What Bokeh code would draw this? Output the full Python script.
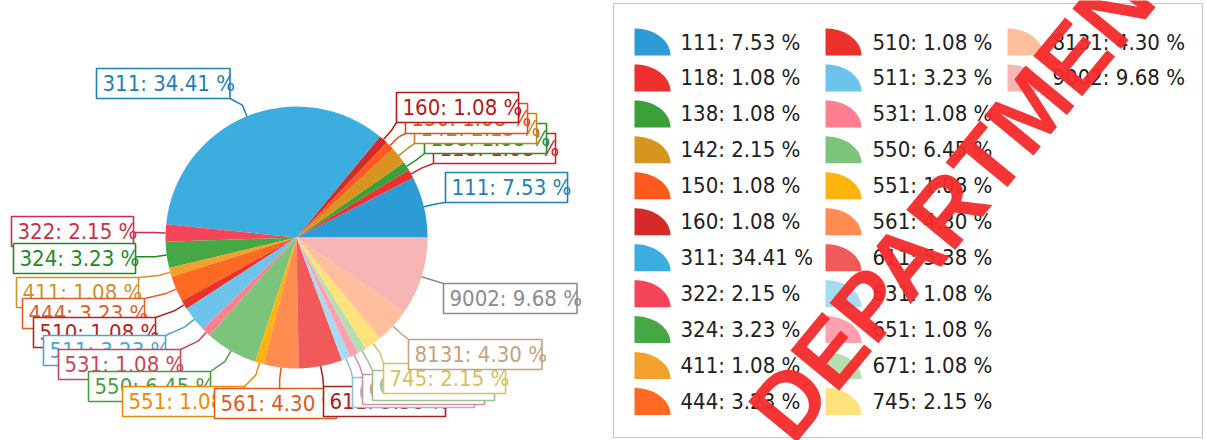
import math
from bokeh.plotting import figure
from bokeh.models import Range1d, ColumnDataSource
from bokeh.core.properties import value
from bokeh.embed import file_html
from bokeh.resources import INLINE

# ---------------- data ----------------
codes = ["111", "118", "138", "142", "150", "160", "311", "322", "324", "411",
         "444", "510", "511", "531", "550", "551", "561", "611", "631", "651",
         "671", "745", "8131", "9002"]
percents = [7.53, 1.08, 1.08, 2.15, 1.08, 1.08, 34.41, 2.15, 3.23, 1.08,
            3.23, 1.08, 3.23, 1.08, 6.45, 1.08, 4.30, 5.38, 1.08, 1.08,
            1.08, 2.15, 4.30, 9.68]

# ---------------- styles ----------------
slice_colors = ["#2d9cd6", "#ef2f2f", "#3aa03a", "#d89420", "#ff5a1e", "#d42a2a",
                "#3badde", "#f5455a", "#45a845", "#f2a12a", "#ff6a22", "#e8322a",
                "#6cc4ec", "#ff7f8e", "#7cc47a", "#ffb30f", "#ff8c50", "#f25a5a",
                "#a6dcf2", "#ff9fb0", "#b5dfb0", "#ffe27a", "#ffbf9c", "#f7b6b6"]
label_colors = ["#1f80b8", "#cc2222", "#2e8b2e", "#c4841a", "#e0501a", "#b41818",
                "#1f80b8", "#c83045", "#1f8a2a", "#d0902a", "#e0602a", "#b82222",
                "#4aa6d6", "#cc4458", "#4a9a4a", "#f08a00", "#e05a18", "#a8201c",
                "#8fbfd4", "#d890a0", "#9cc096", "#d6c060", "#c4a282", "#8c8c8c"]
# label box top-left corners (page pixel coords)
label_pos = [(445, 172), (433, 133), (424, 123), (414, 113), (405, 103), (396, 92),
             (96, 68), (11, 216), (13, 243), (16, 277), (22, 298), (33, 317),
             (43, 335), (58, 349), (88, 371), (122, 386), (214, 388), (323, 386),
             (352, 377), (362, 374), (372, 370), (383, 363), (408, 339), (443, 283)]

FONT = "DejaVu Sans Condensed"
FS = 22
W, H = 1207, 440
PAGE_H = 440


def Y(img_y):
    return PAGE_H - img_y


CW = {"d": 11.45, ":": 6.07, " ": 5.72, ".": 5.72, "%": 17.1}


def text_w(s):
    return sum(CW["d"] if c.isdigit() else CW.get(c, 10) for c in s)


labels = ["%s: %.2f %%" % (c, v) for c, v in zip(codes, percents)]

p = figure(width=W, height=H, x_range=Range1d(0, W), y_range=Range1d(PAGE_H - H, PAGE_H),
           output_backend="svg", toolbar_location=None, x_axis_type=None, y_axis_type=None,
           min_border=0)
p.outline_line_color = None
p.grid.visible = False
p.background_fill_color = "white"

# ---------------- pie ----------------
cx, cy, R = 296, 237, 131
total = sum(percents)
starts, ends = [], []
acc = 0.0
for v in percents:
    starts.append(acc / total * 2 * math.pi)
    acc += v
    ends.append(acc / total * 2 * math.pi)

src = ColumnDataSource(dict(start=starts, end=ends, color=slice_colors))
p.wedge(x=cx, y=Y(cy), radius=R, start_angle="start", end_angle="end", direction="anticlock",
        fill_color="color", line_color=None, source=src)

# ---------------- leaders ----------------
BOX_H = 30
boxes = []
for lab, (l, t) in zip(labels, label_pos):
    w = text_w(lab) + 13
    boxes.append((l, t, l + w, t + BOX_H))

lx, ly = [], []
for s, e, (l, t, r, b) in zip(starts, ends, boxes):
    m = (s + e) / 2
    ex, ey = cx + R * math.cos(m), cy - R * math.sin(m)
    bx, by = cx + (R + 12) * math.cos(m), cy - (R + 12) * math.sin(m)
    ax, ay = min(max(bx, l), r), min(max(by, t), b)
    lx.append([ex, bx, ax])
    ly.append([Y(ey), Y(by), Y(ay)])
p.multi_line(xs=lx, ys=ly, line_color=label_colors, line_width=1.5)

# ---------------- label boxes ----------------
for lab, col, (l, t, r, b) in zip(labels, label_colors, boxes):
    p.quad(left=[l], right=[r], top=[Y(t)], bottom=[Y(b)], fill_color="white",
           line_color=col, line_width=1.6)
    p.text(x=[l + 6], y=[Y((t + b) / 2)], text=[lab], text_color=col,
           text_font=value(FONT), text_font_size="%dpx" % FS,
           text_baseline="middle", text_align="left")

# ---------------- legend ----------------
p.quad(left=[613], right=[1202], top=[Y(3)], bottom=[Y(437)], fill_color=None,
       line_color="#c8c8c8", line_width=1.2)
col_icon = [634, 825, 1007]
col_text = [680, 872, 1052]
row0, dy = 41.5, 35.95
rx, ry = 36, 27
xs_i, ys_i, tx, ty = [], [], [], []
for i, lab in enumerate(labels):
    c, r = divmod(i, 11)
    yc = row0 + r * dy
    x0, yb = col_icon[c], yc + ry / 2
    px = [x0, x0]
    py = [Y(yb), Y(yb - ry)]
    for k in range(1, 31):
        a = k / 30 * math.pi / 2
        px.append(x0 + rx * math.sin(a))
        py.append(Y(yb - ry * math.cos(a)))
    xs_i.append(px)
    ys_i.append(py)
    tx.append(col_text[c])
    ty.append(Y(yc))
p.patches(xs=xs_i, ys=ys_i, fill_color=slice_colors, line_color=None)
p.text(x=tx, y=ty, text=labels, text_color="#202020", text_font=value(FONT),
       text_font_size="%dpx" % FS, text_baseline="middle", text_align="left")

# ---------------- stamp ----------------
p.text(x=[969], y=[Y(182)], text=["DEPARTMENT"], angle=0.881, text_color="#f42a2a",
       text_alpha=0.95, text_font=value("Liberation Sans"), text_font_style="bold",
       text_font_size="92px", text_align="center", text_baseline="middle")

open("out.html", "w").write(file_html(p, INLINE))
